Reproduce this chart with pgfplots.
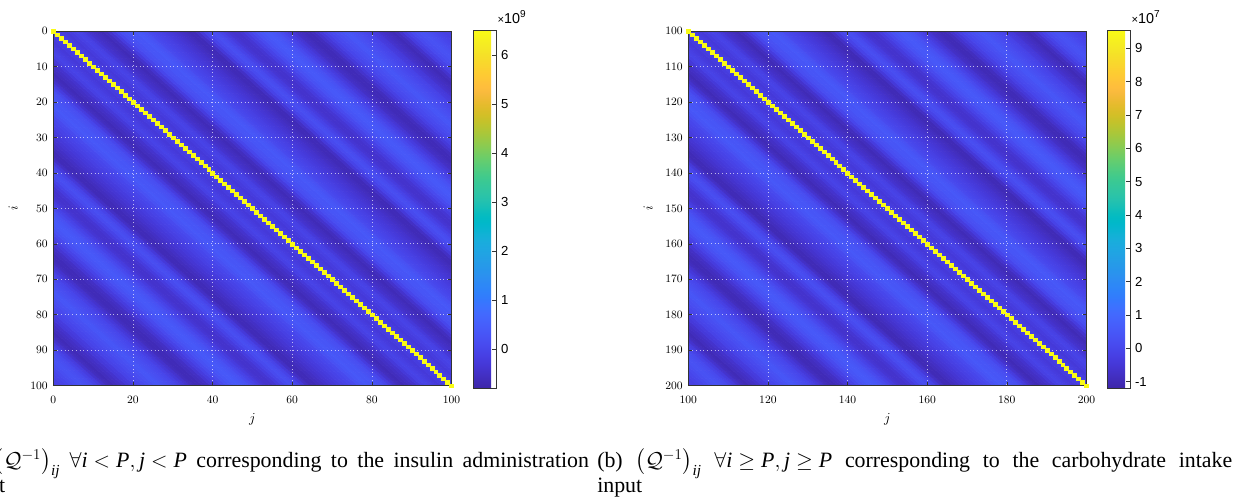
\documentclass[border=0pt]{standalone}
\usepackage{amsmath}
\usepackage{pgfplots}
\pgfplotsset{compat=1.18}
\usepackage{pgfplotstable}
\usepackage{fontspec}
\setmainfont{Liberation Serif}
\setsansfont{Liberation Sans}
\definecolor{diagyellow}{rgb}{0.9769,0.9839,0.0805}
\pgfplotsset{colormap={parula}{
rgb=(0.2422,0.1504,0.6603) rgb=(0.2504,0.1650,0.7076) rgb=(0.2578,0.1818,0.7511) rgb=(0.2647,0.1978,0.7952)
rgb=(0.2706,0.2147,0.8364) rgb=(0.2751,0.2342,0.8710) rgb=(0.2783,0.2559,0.8991) rgb=(0.2803,0.2782,0.9221)
rgb=(0.2813,0.3006,0.9414) rgb=(0.2810,0.3228,0.9579) rgb=(0.2795,0.3447,0.9717) rgb=(0.2760,0.3667,0.9829)
rgb=(0.2699,0.3892,0.9906) rgb=(0.2602,0.4123,0.9952) rgb=(0.2440,0.4358,0.9988) rgb=(0.2206,0.4603,0.9973)
rgb=(0.1963,0.4847,0.9892) rgb=(0.1834,0.5074,0.9798) rgb=(0.1786,0.5289,0.9682) rgb=(0.1764,0.5499,0.9520)
rgb=(0.1687,0.5703,0.9359) rgb=(0.1540,0.5902,0.9218) rgb=(0.1460,0.6091,0.9079) rgb=(0.1380,0.6276,0.8973)
rgb=(0.1248,0.6459,0.8883) rgb=(0.1113,0.6635,0.8763) rgb=(0.0952,0.6798,0.8598) rgb=(0.0689,0.6948,0.8394)
rgb=(0.0297,0.7082,0.8163) rgb=(0.0036,0.7203,0.7917) rgb=(0.0067,0.7312,0.7660) rgb=(0.0433,0.7411,0.7394)
rgb=(0.0964,0.7500,0.7120) rgb=(0.1408,0.7584,0.6842) rgb=(0.1717,0.7670,0.6554) rgb=(0.1938,0.7758,0.6251)
rgb=(0.2161,0.7843,0.5923) rgb=(0.2470,0.7918,0.5567) rgb=(0.2906,0.7973,0.5188) rgb=(0.3406,0.8008,0.4789)
rgb=(0.3909,0.8029,0.4354) rgb=(0.4456,0.8024,0.3909) rgb=(0.5044,0.7993,0.3480) rgb=(0.5616,0.7942,0.3045)
rgb=(0.6174,0.7876,0.2612) rgb=(0.6720,0.7793,0.2227) rgb=(0.7242,0.7698,0.1910) rgb=(0.7738,0.7598,0.1646)
rgb=(0.8203,0.7498,0.1535) rgb=(0.8634,0.7406,0.1596) rgb=(0.9035,0.7330,0.1774) rgb=(0.9393,0.7288,0.2100)
rgb=(0.9728,0.7298,0.2394) rgb=(0.9956,0.7434,0.2371) rgb=(0.9970,0.7659,0.2199) rgb=(0.9952,0.7893,0.2028)
rgb=(0.9892,0.8136,0.1885) rgb=(0.9786,0.8386,0.1766) rgb=(0.9676,0.8639,0.1643) rgb=(0.9610,0.8890,0.1537)
rgb=(0.9597,0.9135,0.1423) rgb=(0.9628,0.9373,0.1265) rgb=(0.9691,0.9606,0.1064) rgb=(0.9769,0.9839,0.0805)
}}
% band value for offset d=j-i, stored at left boundary b=d-0.5 ; ca: panel (a) [x1e9], cb: panel (b) [x1e7]
\pgfplotstableread{
b ca cb
-100.5 -0.07 -0.12
-99.5 -0.14 -0.22
-98.5 -0.14 -0.22
-97.5 -0.07 -0.12
-96.5 0.00 -0.01
-95.5 0.08 0.10
-94.5 0.15 0.21
-93.5 0.22 0.31
-92.5 0.22 0.31
-91.5 0.15 0.21
-90.5 0.08 0.10
-89.5 -0.07 -0.12
-88.5 -0.22 -0.33
-87.5 -0.43 -0.65
-86.5 -0.58 -0.87
-85.5 -0.65 -0.98
-84.5 -0.58 -0.87
-83.5 -0.51 -0.76
-82.5 -0.43 -0.65
-81.5 -0.29 -0.44
-80.5 -0.22 -0.33
-79.5 -0.07 -0.12
-78.5 0.00 -0.01
-77.5 0.08 0.10
-76.5 0.15 0.21
-75.5 0.22 0.31
-74.5 0.30 0.42
-73.5 0.30 0.42
-72.5 0.22 0.31
-71.5 0.15 0.21
-70.5 0.08 0.10
-69.5 0.00 -0.01
-68.5 -0.14 -0.22
-67.5 -0.29 -0.44
-66.5 -0.43 -0.65
-65.5 -0.58 -0.87
-64.5 -0.65 -0.98
-63.5 -0.65 -0.98
-62.5 -0.58 -0.87
-61.5 -0.51 -0.76
-60.5 -0.36 -0.55
-59.5 -0.22 -0.33
-58.5 -0.07 -0.12
-57.5 0.08 0.10
-56.5 0.22 0.31
-55.5 0.30 0.42
-54.5 0.37 0.53
-53.5 0.37 0.53
-52.5 0.30 0.42
-51.5 0.22 0.31
-50.5 0.08 0.10
-49.5 -0.07 -0.12
-48.5 -0.22 -0.33
-47.5 -0.36 -0.55
-46.5 -0.43 -0.65
-45.5 -0.43 -0.65
-44.5 -0.36 -0.55
-43.5 -0.22 -0.33
-42.5 -0.07 -0.12
-41.5 0.08 0.10
-40.5 0.15 0.21
-39.5 0.08 0.10
-38.5 -0.07 -0.12
-37.5 -0.29 -0.44
-36.5 -0.51 -0.76
-35.5 -0.65 -0.98
-34.5 -0.65 -0.98
-33.5 -0.58 -0.87
-32.5 -0.51 -0.76
-31.5 -0.43 -0.65
-30.5 -0.36 -0.55
-29.5 -0.29 -0.44
-28.5 -0.22 -0.33
-27.5 -0.14 -0.22
-26.5 -0.07 -0.12
-25.5 0.00 -0.01
-24.5 0.08 0.10
-23.5 0.22 0.31
-22.5 0.30 0.42
-21.5 0.37 0.53
-20.5 0.30 0.42
-19.5 0.30 0.42
-18.5 0.22 0.31
-17.5 0.15 0.21
-16.5 0.00 -0.01
-15.5 -0.22 -0.33
-14.5 -0.43 -0.65
-13.5 -0.58 -0.87
-12.5 -0.65 -0.98
-11.5 -0.58 -0.87
-10.5 -0.51 -0.76
-9.5 -0.43 -0.65
-8.5 -0.29 -0.44
-7.5 -0.14 -0.22
-6.5 -0.07 -0.12
-5.5 -0.14 -0.22
-4.5 -0.22 -0.33
-3.5 -0.29 -0.44
-2.5 -0.22 -0.33
-1.5 -0.14 -0.22
-0.5 -0.14 -0.22
0.5 -0.14 -0.22
1.5 -0.22 -0.33
2.5 -0.29 -0.44
3.5 -0.22 -0.33
4.5 -0.14 -0.22
5.5 -0.07 -0.12
6.5 -0.14 -0.22
7.5 -0.29 -0.44
8.5 -0.43 -0.65
9.5 -0.51 -0.76
10.5 -0.58 -0.87
11.5 -0.65 -0.98
12.5 -0.58 -0.87
13.5 -0.43 -0.65
14.5 -0.22 -0.33
15.5 0.00 -0.01
16.5 0.15 0.21
17.5 0.22 0.31
18.5 0.30 0.42
19.5 0.30 0.42
20.5 0.37 0.53
21.5 0.30 0.42
22.5 0.22 0.31
23.5 0.08 0.10
24.5 0.00 -0.01
25.5 -0.07 -0.12
26.5 -0.14 -0.22
27.5 -0.22 -0.33
28.5 -0.29 -0.44
29.5 -0.36 -0.55
30.5 -0.43 -0.65
31.5 -0.51 -0.76
32.5 -0.58 -0.87
33.5 -0.65 -0.98
34.5 -0.65 -0.98
35.5 -0.51 -0.76
36.5 -0.29 -0.44
37.5 -0.07 -0.12
38.5 0.08 0.10
39.5 0.15 0.21
40.5 0.08 0.10
41.5 -0.07 -0.12
42.5 -0.22 -0.33
43.5 -0.36 -0.55
44.5 -0.43 -0.65
45.5 -0.43 -0.65
46.5 -0.36 -0.55
47.5 -0.22 -0.33
48.5 -0.07 -0.12
49.5 0.08 0.10
50.5 0.22 0.31
51.5 0.30 0.42
52.5 0.37 0.53
53.5 0.37 0.53
54.5 0.30 0.42
55.5 0.22 0.31
56.5 0.08 0.10
57.5 -0.07 -0.12
58.5 -0.22 -0.33
59.5 -0.36 -0.55
60.5 -0.51 -0.76
61.5 -0.58 -0.87
62.5 -0.65 -0.98
63.5 -0.65 -0.98
64.5 -0.58 -0.87
65.5 -0.43 -0.65
66.5 -0.29 -0.44
67.5 -0.14 -0.22
68.5 0.00 -0.01
69.5 0.08 0.10
70.5 0.15 0.21
71.5 0.22 0.31
72.5 0.30 0.42
73.5 0.30 0.42
74.5 0.22 0.31
75.5 0.15 0.21
76.5 0.08 0.10
77.5 0.00 -0.01
78.5 -0.07 -0.12
79.5 -0.22 -0.33
80.5 -0.29 -0.44
81.5 -0.43 -0.65
82.5 -0.51 -0.76
83.5 -0.58 -0.87
84.5 -0.65 -0.98
85.5 -0.58 -0.87
86.5 -0.43 -0.65
87.5 -0.22 -0.33
88.5 -0.07 -0.12
89.5 0.08 0.10
90.5 0.15 0.21
91.5 0.22 0.31
92.5 0.22 0.31
93.5 0.15 0.21
94.5 0.08 0.10
95.5 0.00 -0.01
96.5 -0.07 -0.12
97.5 -0.14 -0.22
98.5 -0.14 -0.22
99.5 -0.07 -0.12
100.5 -0.07 -0.12
}\bands
\pgfplotstablevertcat{\meshtab}{\bands}
\pgfplotstablevertcat{\meshtab}{\bands}

\pgfplotsset{
  mx/.style={
    scale only axis, width=318.6pt, height=283.8pt,
    y dir=reverse, axis on top, enlargelimits=false,
    tick align=inside, major tick length=3.2pt,
    tick style={black!80, line width=0.5pt},
    axis line style={black!80, line width=0.5pt},
    grid=major,
    major grid style={white, opacity=0.65, line width=0.6pt, dash pattern=on 0.6pt off 2.4pt},
    ticklabel style={font=\fontsize{9.3}{10}\selectfont},
    xticklabel style={yshift=-5pt},
    yticklabel style={xshift=-1pt},
    label style={font=\fontsize{11}{12}\selectfont},
    xlabel={$j$}, ylabel={$i$},
    xlabel style={at={(axis description cs:0.5,-0.096)}, anchor=center},
    ylabel style={at={(axis description cs:-0.101,0.5)}, anchor=center},
    colorbar,
  },
  cb/.style={
    scale only axis, width=18.2pt, height=286.4pt,
    at={(parent axis.north east)}, anchor=north west, yshift=0.8pt,
    ytick pos=right, tick align=inside, major tick length=3.5pt,
    tick style={black!80, line width=0.5pt},
    axis line style={black!80, line width=0.5pt},
    yticklabel style={font=\sffamily\fontsize{10.5}{12}\selectfont, xshift=0.5pt},
  },
}
\newcommand{\capfont}{\fontsize{17.5}{20}\selectfont\thickmuskip=5mu\medmuskip=4mu\thinmuskip=3mu\relax}

\begin{document}
\begin{tikzpicture}
\path[use as bounding box] (0,0) rectangle (997.6pt,-403.2pt);
\clip (0,0) rectangle (997.6pt,-403.2pt);

% ---------------- panel (a)
\begin{axis}[mx, at={(42.64pt,-24.8pt)}, anchor=north west,
  xmin=0, xmax=100, ymin=0, ymax=100,
  xtick={0,20,...,100}, ytick={0,10,...,100},
  point meta min=-0.8, point meta max=6.51,
  colorbar style={cb, xshift=8.9pt, ytick={0,1,2,3,4,5,6}, yticklabels={0,1,2,3,4,5,6}},
]
\addplot[surf, shader=flat corner, mesh/cols=202, point meta=explicit]
  table[x expr={\thisrow{b}+(\coordindex<202?-1:101)}, y expr={(\coordindex<202?-1:101)}, meta=ca] {\meshtab};
\addplot[only marks, mark=square*, mark size=1.593pt,
  mark options={fill=diagyellow, draw=diagyellow, line width=0.2pt, yscale=0.891}] coordinates {
(0,0) (1,1) (2,2) (3,3) (4,4) (5,5) (6,6) (7,7) (8,8) (9,9)
(10,10) (11,11) (12,12) (13,13) (14,14) (15,15) (16,16) (17,17) (18,18) (19,19)
(20,20) (21,21) (22,22) (23,23) (24,24) (25,25) (26,26) (27,27) (28,28) (29,29)
(30,30) (31,31) (32,32) (33,33) (34,34) (35,35) (36,36) (37,37) (38,38) (39,39)
(40,40) (41,41) (42,42) (43,43) (44,44) (45,45) (46,46) (47,47) (48,48) (49,49)
(50,50) (51,51) (52,52) (53,53) (54,54) (55,55) (56,56) (57,57) (58,58) (59,59)
(60,60) (61,61) (62,62) (63,63) (64,64) (65,65) (66,66) (67,67) (68,68) (69,69)
(70,70) (71,71) (72,72) (73,73) (74,74) (75,75) (76,76) (77,77) (78,78) (79,79)
(80,80) (81,81) (82,82) (83,83) (84,84) (85,85) (86,86) (87,87) (88,88) (89,89)
(90,90) (91,91) (92,92) (93,93) (94,94) (95,95) (96,96) (97,97) (98,98) (99,99)
(100,100)};
\end{axis}

% ---------------- panel (b)
\begin{axis}[mx, at={(550.6pt,-24.8pt)}, anchor=north west,
  xmin=100, xmax=200, ymin=100, ymax=200,
  xtick={100,120,...,200}, ytick={100,110,...,200},
  point meta min=-1.19, point meta max=9.55,
  colorbar style={cb, xshift=8.1pt, ytick={-1,0,1,2,3,4,5,6,7,8,9}, yticklabels={-1,0,1,2,3,4,5,6,7,8,9}},
]
\addplot[surf, shader=flat corner, mesh/cols=202, point meta=explicit]
  table[x expr={100+\thisrow{b}+(\coordindex<202?-1:101)}, y expr={100+(\coordindex<202?-1:101)}, meta=cb] {\meshtab};
\addplot[only marks, mark=square*, mark size=1.593pt,
  mark options={fill=diagyellow, draw=diagyellow, line width=0.2pt, yscale=0.891}] coordinates {
(100,100) (101,101) (102,102) (103,103) (104,104) (105,105) (106,106) (107,107) (108,108) (109,109)
(110,110) (111,111) (112,112) (113,113) (114,114) (115,115) (116,116) (117,117) (118,118) (119,119)
(120,120) (121,121) (122,122) (123,123) (124,124) (125,125) (126,126) (127,127) (128,128) (129,129)
(130,130) (131,131) (132,132) (133,133) (134,134) (135,135) (136,136) (137,137) (138,138) (139,139)
(140,140) (141,141) (142,142) (143,143) (144,144) (145,145) (146,146) (147,147) (148,148) (149,149)
(150,150) (151,151) (152,152) (153,153) (154,154) (155,155) (156,156) (157,157) (158,158) (159,159)
(160,160) (161,161) (162,162) (163,163) (164,164) (165,165) (166,166) (167,167) (168,168) (169,169)
(170,170) (171,171) (172,172) (173,173) (174,174) (175,175) (176,176) (177,177) (178,178) (179,179)
(180,180) (181,181) (182,182) (183,183) (184,184) (185,185) (186,186) (187,187) (188,188) (189,189)
(190,190) (191,191) (192,192) (193,193) (194,194) (195,195) (196,196) (197,197) (198,198) (199,199)
(200,200)};
\end{axis}

% ---------------- colorbar multipliers
\node[anchor=base west, inner sep=0pt, font=\sffamily\fontsize{11.5}{12}\selectfont] at (397.8pt,-18.6pt)
  {{\fontsize{9}{9}\selectfont ×}10\textsuperscript{9}};
\node[anchor=base west, inner sep=0pt, font=\sffamily\fontsize{11.5}{12}\selectfont] at (905pt,-18.6pt)
  {{\fontsize{9}{9}\selectfont ×}10\textsuperscript{7}};

% ---------------- captions (justified first lines)
\node[anchor=base west, inner sep=0pt, font=\capfont] at (-32pt,-373.6pt)
  {\hbox to 503pt{(a) $\left(\mathcal{Q}^{-1}\right)_{\textit{ij}}$ $\forall\textit{i} < \textit{P}, \textit{j} < \textit{P}$ corresponding to the insulin administration}};
\node[anchor=base west, inner sep=0pt, font=\capfont] at (-32pt,-393.6pt) {input};
\node[anchor=base west, inner sep=0pt, font=\capfont] at (477.6pt,-373.6pt)
  {\hbox to 508pt{(b) $\left(\mathcal{Q}^{-1}\right)_{\textit{ij}}$ $\forall\textit{i} \geq \textit{P}, \textit{j} \geq \textit{P}$ corresponding to the carbohydrate intake}};
\node[anchor=base west, inner sep=0pt, font=\capfont] at (477.6pt,-393.6pt) {input};
\end{tikzpicture}
\end{document}
